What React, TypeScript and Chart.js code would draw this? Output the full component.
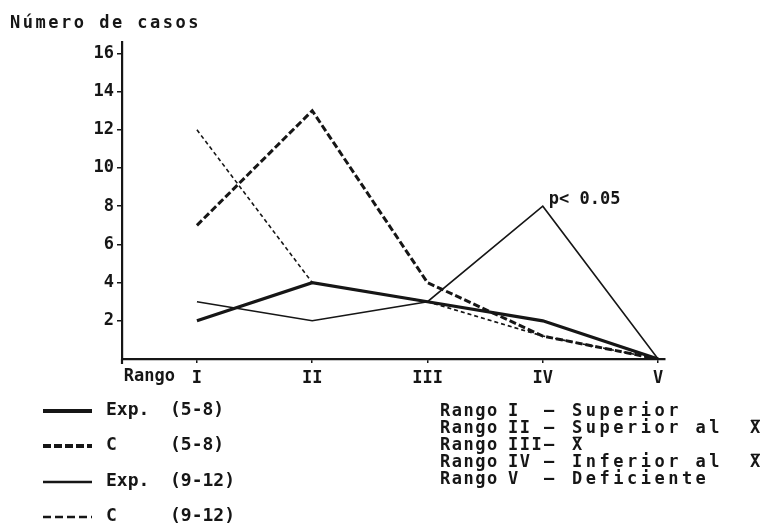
import React, { useEffect, useRef } from 'react';
import { Chart, registerables } from 'chart.js';

Chart.register(...registerables);

const categories = ['I', 'II', 'III', 'IV', 'V'];
const expA = [2, 4, 3, 2, 0]; // Exp. (5-8)
const cA = [7, 13, 4, 1.2, 0]; // C (5-8)
const expB = [3, 2, 3, 8, 0]; // Exp. (9-12)
const cB = [12, 4, 3, 1.2, 0]; // C (9-12)
const yTicks = [2, 4, 6, 8, 10, 12, 14, 16];
const legendNames = ['Exp.', 'C', 'Exp.', 'C'];
const legendGroups = ['(5-8)', '(5-8)', '(9-12)', '(9-12)'];
const rangeNames = ['I', 'II', 'III', 'IV', 'V'];
const rangeDescs = ['Superior', 'Superior al', '', 'Inferior al', 'Deficiente'];
const rangeXbar = [false, true, true, true, false];
const titleText = 'Número de casos';
const axisLabel = 'Rango';
const noteText = 'p< 0.05';

const F = '"DejaVu Sans Mono", monospace';
const INK = '#161616';

const styles = [
  { width: 3.2, dash: [] as number[] },
  { width: 3, dash: [7, 3] },
  { width: 1.6, dash: [] as number[] },
  { width: 1.6, dash: [4, 3] },
];

const overlay = {
  id: 'overlay',
  afterDraw(chart: any) {
    const ctx: CanvasRenderingContext2D = chart.ctx;
    const xs = chart.scales.x;
    const ys = chart.scales.y;
    ctx.save();
    ctx.fillStyle = INK;
    ctx.textBaseline = 'middle';

    ctx.font = `bold 17px ${F}`;
    (ctx as any).letterSpacing = '2.5px';
    ctx.textAlign = 'left';
    ctx.fillText(titleText, 10, 24);
    (ctx as any).letterSpacing = '0px';

    ctx.textAlign = 'right';
    ctx.fillText(axisLabel, xs.getPixelForValue(1) - 22, 377);

    ctx.textAlign = 'left';
    ctx.fillText(noteText, xs.getPixelForValue(4) + 6, ys.getPixelForValue(8) - 7);

    // y-axis foot
    ctx.save();
    ctx.strokeStyle = INK;
    ctx.lineWidth = 2.2;
    ctx.beginPath();
    ctx.moveTo(xs.left, ys.bottom);
    ctx.lineTo(xs.left, ys.bottom + 5);
    ctx.stroke();
    ctx.restore();

    // left legend
    const rowsY = [410, 445, 481, 516];
    ctx.font = `bold 18px ${F}`;
    for (let i = 0; i < 4; i++) {
      const y = rowsY[i];
      ctx.save();
      ctx.strokeStyle = INK;
      ctx.lineWidth = i < 2 ? 4 : 2.6;
      ctx.setLineDash(i === 1 ? [8, 3] : i === 3 ? [8, 4] : []);
      ctx.beginPath();
      ctx.moveTo(43, y + 1);
      ctx.lineTo(92, y + 1);
      ctx.stroke();
      ctx.restore();
      ctx.fillText(legendNames[i], 106, y);
      ctx.fillText(legendGroups[i], 170, y);
    }

    // right legend
    ctx.font = `bold 17px ${F}`;
    for (let i = 0; i < 5; i++) {
      const y = 412 + i * 17;
      (ctx as any).letterSpacing = '1.5px';
      ctx.fillText(axisLabel, 440, y);
      ctx.fillText(rangeNames[i], 508, y);
      ctx.fillText('–', 544, y);
      (ctx as any).letterSpacing = '3.5px';
      ctx.fillText(rangeDescs[i], 572, y);
      if (rangeXbar[i]) {
        const px = i === 2 ? 572 : 750;
        ctx.fillText('X', px, y);
        ctx.save();
        ctx.strokeStyle = INK;
        ctx.lineWidth = 1.6;
        ctx.beginPath();
        ctx.moveTo(px + 1, y - 8.5);
        ctx.lineTo(px + 10, y - 8.5);
        ctx.stroke();
        ctx.restore();
      }
    }
    (ctx as any).letterSpacing = '0px';
    ctx.restore();
  },
};

export default function App() {
  const ref = useRef<HTMLCanvasElement | null>(null);
  useEffect(() => {
    document.body.style.margin = '0';
    const canvas = ref.current;
    if (!canvas) return;
    const series = [expA, cA, expB, cB];
    const chart = new Chart(canvas, {
      type: 'line',
      data: {
        datasets: series.map((vals, si) => ({
          label: legendNames[si] + ' ' + legendGroups[si],
          data: vals.map((v, i) => ({ x: i + 1, y: v })),
          borderColor: INK,
          borderWidth: styles[si].width,
          borderDash: styles[si].dash,
          pointRadius: 0,
          tension: 0,
          fill: false,
        })),
      },
      options: {
        animation: false,
        responsive: false,
        layout: { padding: { top: 42, right: 114, left: 0, bottom: 0 } },
        plugins: { legend: { display: false }, tooltip: { enabled: false } },
        scales: {
          x: {
            type: 'linear',
            min: 0.35,
            max: 5.06,
            afterBuildTicks: (s: any) => {
              s.ticks = categories.map((_, i) => ({ value: i + 1 }));
            },
            afterFit: (s: any) => {
              s.height = 526 - 359;
            },
            ticks: {
              color: INK,
              font: { family: F, size: 17, weight: 'bold' },
              padding: 5,
              callback: (v: any) => categories[Number(v) - 1] ?? '',
            },
            grid: { drawOnChartArea: false, color: INK, tickLength: 4, lineWidth: 1.5 },
            border: { color: INK, width: 2.2 },
          },
          y: {
            min: 0,
            max: 16.6,
            afterBuildTicks: (s: any) => {
              s.ticks = yTicks.map((v) => ({ value: v }));
            },
            afterFit: (s: any) => {
              s.width = 122;
            },
            ticks: {
              color: INK,
              font: { family: F, size: 17, weight: 'bold' },
              padding: 3,
            },
            grid: { drawOnChartArea: false, color: INK, tickLength: 5, lineWidth: 1.5 },
            border: { color: INK, width: 2.2 },
          },
        },
      },
      plugins: [overlay],
    });
    return () => chart.destroy();
  }, []);
  return (
    <div style={{ width: 779, height: 526, background: '#fff' }}>
      <canvas ref={ref} width={779} height={526} style={{ display: 'block' }} />
    </div>
  );
}
